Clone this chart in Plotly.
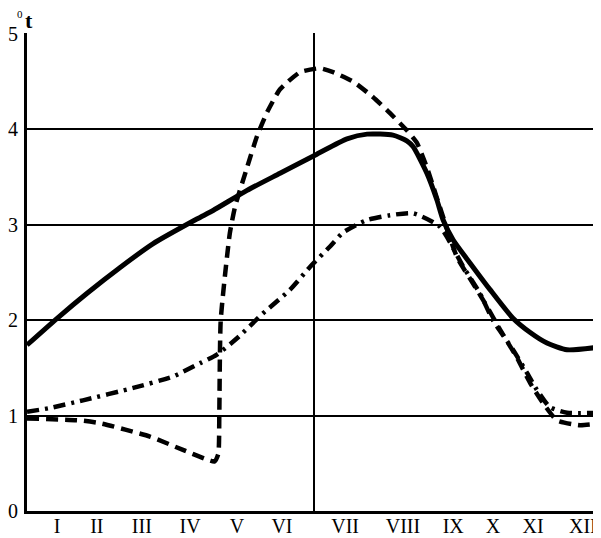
import plotly.graph_objects as go

# Month tick labels and their positions (month units, axis 0..12)
month_labels = ["I", "II", "III", "IV", "V", "VI", "VII", "VIII", "IX", "X", "XI", "XII"]
month_pos = [0.63, 1.46, 2.40, 3.41, 4.39, 5.33, 6.65, 7.86, 8.91, 9.74, 10.58, 11.62]

# Solid curve
solid_x = [0.0, 0.63, 1.25, 1.94, 2.63, 3.55, 3.89, 4.60, 5.29, 6.06, 6.69, 7.11, 7.65, 7.94,
           8.07, 8.36, 8.57, 8.70, 8.91, 9.26, 9.68, 10.16, 10.52, 10.87, 11.29, 12.0]
solid_y = [1.74, 2.02, 2.28, 2.55, 2.80, 3.06, 3.15, 3.36, 3.54, 3.74, 3.90, 3.95, 3.94, 3.88,
           3.82, 3.54, 3.26, 3.05, 2.84, 2.60, 2.32, 2.02, 1.87, 1.76, 1.69, 1.72]

# Dashed curve
dash_x = [0.0, 1.10, 1.53, 2.57, 3.26, 3.76, 3.92, 4.00, 4.02, 4.05, 4.24, 4.35, 4.60, 4.81,
          5.02, 5.29, 5.71, 6.13, 6.40, 6.82, 7.23, 7.53, 7.94, 8.15, 8.36, 8.99, 9.32, 9.62,
          9.89, 10.24, 10.52, 10.79, 11.08, 11.56, 12.0]
dash_y = [0.97, 0.95, 0.92, 0.78, 0.64, 0.54, 0.52, 0.60, 1.00, 2.00, 2.91, 3.19, 3.60, 3.93,
          4.18, 4.42, 4.60, 4.64, 4.60, 4.50, 4.34, 4.20, 3.99, 3.86, 3.60, 2.66, 2.39, 2.14,
          1.90, 1.61, 1.34, 1.13, 0.95, 0.90, 0.92]

# Dash-dot curve
dd_x = [0.0, 0.48, 1.17, 2.22, 3.05, 3.62, 3.97, 4.39, 4.93, 5.50, 5.92, 6.33, 6.61, 7.11,
        7.59, 8.07, 8.63, 9.12, 9.47, 9.74, 10.16, 10.45, 10.66, 10.93, 11.29, 12.0]
dd_y = [1.04, 1.08, 1.16, 1.29, 1.41, 1.55, 1.64, 1.81, 2.07, 2.32, 2.56, 2.77, 2.92, 3.05,
        3.10, 3.12, 2.98, 2.56, 2.28, 2.00, 1.69, 1.45, 1.27, 1.09, 1.03, 1.03]

y_ticks = [0, 1, 2, 3, 4, 5]

fig = go.Figure()
fig.add_trace(go.Scatter(x=solid_x, y=solid_y, mode="lines",
                         line=dict(color="black", width=5, shape="spline", smoothing=0.6)))
fig.add_trace(go.Scatter(x=dash_x, y=dash_y, mode="lines",
                         line=dict(color="black", width=4.5, dash="12px,7px", shape="spline", smoothing=0.5)))
fig.add_trace(go.Scatter(x=dd_x, y=dd_y, mode="lines",
                         line=dict(color="black", width=4.5, dash="12px,6px,3px,6px", shape="spline", smoothing=0.6)))

# mid-year vertical line
fig.add_shape(type="line", xref="x", yref="paper", x0=6, x1=6, y0=0, y1=1,
              line=dict(color="black", width=2))

# axis title "⁰t"
fig.add_annotation(xref="paper", yref="paper", x=-0.012, y=1.04, xanchor="center", yanchor="middle",
                   text="0", showarrow=False,
                   font=dict(family="Liberation Serif", size=11, color="black"))
fig.add_annotation(xref="paper", yref="paper", x=0.004, y=1.027, xanchor="center", yanchor="middle",
                   text="<b>t</b>", showarrow=False,
                   font=dict(family="Liberation Serif", size=22, color="black"))

fig.update_layout(
    width=593, height=530,
    margin=dict(l=19, r=0, t=25, b=27),
    plot_bgcolor="white", paper_bgcolor="white",
    showlegend=False,
    font=dict(family="Liberation Serif", size=20, color="black"),
    xaxis=dict(range=[0, 12], tickvals=month_pos, ticktext=month_labels, showgrid=False,
               zeroline=False, showline=True, linecolor="black", linewidth=3, ticks="",
               ticklabelstandoff=-5,
               tickfont=dict(family="Liberation Serif", size=20), automargin=False),
    yaxis=dict(range=[0, 5.01], tickvals=y_ticks, showgrid=True, gridcolor="black", gridwidth=2,
               zeroline=False, showline=True, linecolor="black", linewidth=3, ticks="",
               ticklabelstandoff=2,
               tickfont=dict(family="Liberation Serif", size=20), automargin=False),
)

fig.write_html("out.html")
